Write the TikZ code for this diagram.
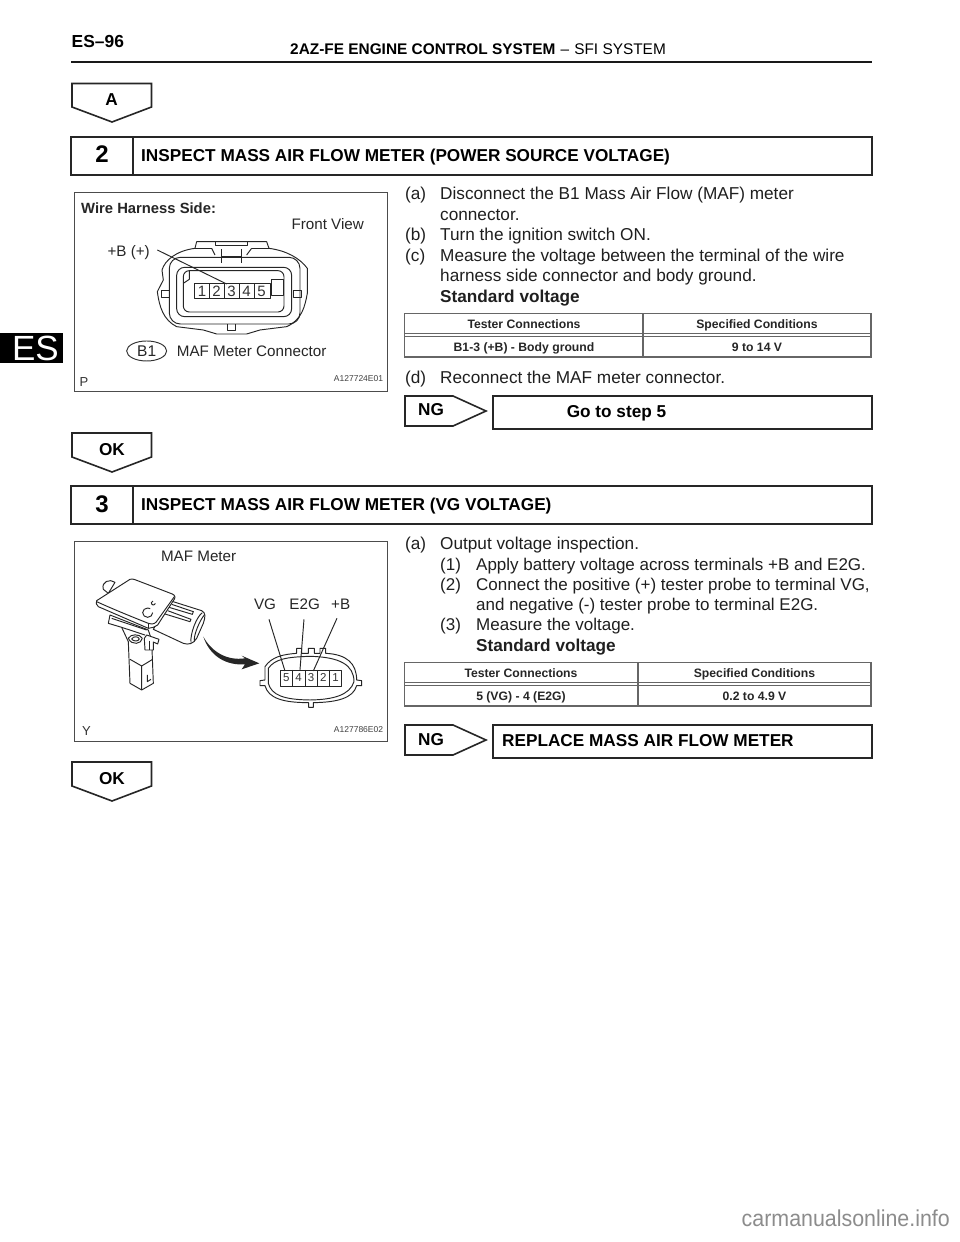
\documentclass[tikz,border=0pt]{standalone}
\usepackage{fontspec}
\usetikzlibrary{shapes.geometric}
\setmainfont{Liberation Sans}
\tikzset{
 body/.style={anchor=base west,inner sep=0,font=\fontsize{17.2}{20}\selectfont,text=black!88},
 bodyc/.style={body,font=\fontsize{17}{20}\selectfont},
 bodyb/.style={body,font=\fontsize{17.2}{20}\selectfont\bfseries},
 boxt/.style={anchor=base west,inner sep=0,font=\fontsize{17.2}{20}\selectfont\bfseries},
 num/.style={anchor=base,inner sep=0,font=\fontsize{24}{26}\selectfont\bfseries},
 flag/.style={anchor=base,inner sep=0,font=\fontsize{17.2}{20}\selectfont\bfseries},
 cell/.style={anchor=base,inner sep=0,font=\fontsize{12.2}{14}\selectfont\bfseries,text=black!85},
 frame/.style={draw=black!85,line width=1.6pt,line join=miter},
 tbl/.style={draw=black!60,line width=1.1pt},
 fig/.style={draw=black!70,line width=1pt},
 figt/.style={inner sep=0,font=\fontsize{15.2}{18}\selectfont,text=black!85},
 figs/.style={inner sep=0,font=\fontsize{8.5}{10}\selectfont,text=black!75},
 ln/.style={draw=black!85,line width=.95pt,line join=round},
 pin/.style={inner sep=0,font=\fontsize{15}{16}\selectfont,text=black!80},
 pins/.style={inner sep=0,font=\fontsize{11.5}{12}\selectfont,text=black!80},
}
\begin{document}
\begin{tikzpicture}[x=1pt,y=-1pt]
\useasboundingbox (0,0) rectangle (960,1242);
\fill[white] (0,0) rectangle (960,1242);
% header
\node[anchor=base west,inner sep=0,font=\fontsize{17.4}{20}\selectfont\bfseries] (hl) at (71.5,47.5) {ES--96};
\node[anchor=base west,inner sep=0,font=\fontsize{15.4}{18}\selectfont] (hr) at (290,54) {\textbf{2AZ-FE ENGINE CONTROL SYSTEM}\,\,--\,\,SFI SYSTEM};
\draw[black!90,line width=1.8pt] (71,62) -- (872,62);
% side tab
\fill[black] (0,333) rectangle (62.5,363);
\node[inner sep=0,anchor=east,font=\fontsize{35}{38}\selectfont,text=white] (es) at (59,348) {ES};
% A
\draw[frame] (72,83.5) -- (151.5,83.5) -- (151.5,107) -- (112,122) -- (72,107) -- cycle;
\node[flag] (fa) at (111.5,105.5) {A};
% step 2
\draw[frame] (71,137) rectangle (872,175);
\draw[frame] (133,137) -- (133,175);
\node[num] (n2) at (102,162.5) {2};
\node[boxt] (t2) at (141,161.5) {INSPECT MASS AIR FLOW METER (POWER SOURCE VOLTAGE)};
% text (a)..(c)
\node[body] (a1) at (405,199.5) {(a)};
\node[body] (a1t) at (440,199.5) {Disconnect the B1 Mass Air Flow (MAF) meter};
\node[body] (a1u) at (440,220) {connector.};
\node[body] (b1) at (405,240.5) {(b)};
\node[body] (b1t) at (440,240.5) {Turn the ignition switch ON.};
\node[body] (c1) at (405,261) {(c)};
\node[body] (c1t) at (440,261) {Measure the voltage between the terminal of the wire};
\node[body] (c1u) at (440,281) {harness side connector and body ground.};
\node[bodyb] (s1) at (440,302) {Standard voltage};
% table 1
\draw[tbl] (404.5,313.5) rectangle (871,357);
\draw[tbl] (404.5,333.5) -- (871,333.5) (404.5,336.2) -- (871,336.2);
\draw[tbl] (643,313.5) -- (643,357);
\node[cell] (c11) at (524,328.5) {Tester Connections};
\node[cell] (c12) at (757,328.5) {Specified Conditions};
\node[cell] (c13) at (524,351) {B1-3 (+B) - Body ground};
\node[cell] (c14) at (757,351) {9 to 14 V};
\node[body] (d1) at (405,383) {(d)};
\node[body] (d1t) at (440,383) {Reconnect the MAF meter connector.};
% NG 1
\draw[frame] (405,396) -- (453,396) -- (486,411) -- (453,426) -- (405,426) -- cycle;
\node[flag] (ng1) at (431,415.5) {NG};
\draw[frame] (493,396) rectangle (872,429);
\node[flag] (g1) at (616.5,417.5) {Go to step 5};
% OK 1
\draw[frame] (72,433) -- (151.5,433) -- (151.5,457) -- (112,472) -- (72,457) -- cycle;
\node[flag] (ok1) at (112,455) {OK};
% step 3
\draw[frame] (71,486) rectangle (872,524);
\draw[frame] (133,486) -- (133,524);
\node[num] (n3) at (102,512) {3};
\node[boxt] (t3) at (141,510.5) {INSPECT MASS AIR FLOW METER (VG VOLTAGE)};
\node[body] (a2) at (405,549.5) {(a)};
\node[body] (a2t) at (440,549.5) {Output voltage inspection.};
\node[bodyc] (p1) at (440,570) {(1)};
\node[bodyc] (p1t) at (476,570) {Apply battery voltage across terminals +B and E2G.};
\node[bodyc] (p2) at (440,590) {(2)};
\node[bodyc] (p2t) at (476,590) {Connect the positive (+) tester probe to terminal VG,};
\node[bodyc] (p2u) at (476,610) {and negative (-) tester probe to terminal E2G.};
\node[bodyc] (p3) at (440,630.5) {(3)};
\node[bodyc] (p3t) at (476,630.5) {Measure the voltage.};
\node[bodyb] (s2) at (476,651) {Standard voltage};
% table 2
\draw[tbl] (404.5,662.5) rectangle (871,706);
\draw[tbl] (404.5,682.5) -- (871,682.5) (404.5,685.2) -- (871,685.2);
\draw[tbl] (638,662.5) -- (638,706);
\node[cell] (c21) at (521,677.5) {Tester Connections};
\node[cell] (c22) at (754.5,677.5) {Specified Conditions};
\node[cell] (c23) at (521,700) {5 (VG) - 4 (E2G)};
\node[cell] (c24) at (754.5,700) {0.2 to 4.9 V};
% NG 2
\draw[frame] (405,725) -- (453,725) -- (486,740) -- (453,755) -- (405,755) -- cycle;
\node[flag] (ng2) at (431,745) {NG};
\draw[frame] (493,725) rectangle (872,758);
\node[boxt] (g2) at (502,746.5) {REPLACE MASS AIR FLOW METER};
% OK 2
\draw[frame] (72,762) -- (151.5,762) -- (151.5,786) -- (112,801) -- (72,786) -- cycle;
\node[flag] (ok2) at (112,784) {OK};
% watermark
\node[inner sep=0,anchor=east,font=\fontsize{23}{26}\selectfont\addfontfeature{FakeStretch=0.93},text=black!45] (wm) at (950,1218) {carmanualsonline.info};

% FIGURE 1
\draw[fig] (74.5,192.5) rectangle (387,391);
\begin{scope}[shift={(70,180)},x=.3333pt,y=-.3333pt]
\node[inner sep=0,anchor=west,font=\fontsize{14.8}{18}\selectfont\bfseries,text=black!85] (w1) at (33,84) {Wire Harness Side:};
\node[figt,anchor=west] (w2) at (664,131) {Front View};
\node[figt,anchor=west] (w3) at (112,219) {+B (+)};
\node[figt,anchor=west] (w4) at (320,513) {MAF Meter Connector};
\node[inner sep=0,anchor=west,font=\fontsize{13}{15}\selectfont,text=black!80] (w5) at (28,607) {P};
\node[figs,anchor=east] (w6) at (940,597) {A127724E01};
\node[draw=black!80,line width=.95pt,ellipse,minimum width=40pt,minimum height=20pt,inner sep=0,font=\fontsize{15.5}{18}\selectfont,text=black!85] (b1e) at (230,513) {B1};
\draw[ln] (375,205) -- (380,185) -- (590,185) -- (597,205);
\draw[ln] (437,185) -- (437,195) -- (532,195) -- (532,185);
\draw[ln] (375,205) .. controls (320,212) and (285,240) .. (276,270) -- (280,300) -- (262,335)
 .. controls (268,380) and (280,420) .. (320,440) -- (400,450) -- (440,462) -- (530,462) -- (570,450) -- (650,440)
 .. controls (695,420) and (705,380) .. (712,340) -- (712,265) .. controls (690,235) and (650,212) .. (597,205);
\draw[ln] (425,205) -- (375,205) (597,205) -- (545,205);
\draw[ln] (425,205) -- (435,225) (545,205) -- (530,225);
\draw[ln,rounded corners=11pt] (298,232) -- (690,232) -- (690,432) -- (298,432) -- cycle;
\draw[ln,rounded corners=8pt] (320,262) -- (665,262) -- (665,410) -- (320,410) -- cycle;
\draw[ln,rounded corners=6pt] (340,272) -- (642,272) -- (642,396) -- (340,396) -- cycle;
\draw[ln] (455,208) -- (455,250) (515,208) -- (515,250) (455,228) -- (515,228);
\draw[ln] (340,310) -- (358,298) -- (358,272);
\draw[ln] (275,332) rectangle (298,352) (670,332) rectangle (695,352);
\draw[ln] (472,432) -- (472,452) -- (497,452) -- (497,432);
\draw[ln,fill=white] (605,297) rectangle (640,346);
\draw[ln] (373,311) rectangle (600,355);
\draw[ln] (418,311) -- (418,355) (462,311) -- (462,355) (508,311) -- (508,355) (552,311) -- (552,355);
\node[pin] (q1) at (396,334) {1};
\node[pin] (q2) at (440,334) {2};
\node[pin] (q3) at (485,334) {3};
\node[pin] (q4) at (530,334) {4};
\node[pin] (q5) at (575,334) {5};
\coordinate (lead) at (262,210);
\coordinate (leadb) at (470,312);
\draw[ln] (lead) -- (leadb);
\end{scope}

% FIGURE 2
\draw[fig] (74.5,541.5) rectangle (387,741);
\begin{scope}[shift={(70,535)},x=.3333pt,y=-.3333pt]
\node[inner sep=0,font=\fontsize{15.2}{18}\selectfont,text=black!85] (m1) at (386,65) {MAF Meter};
\node[figt] (m2) at (585,207) {VG};
\node[figt] (m3) at (704,207) {E2G};
\node[figt] (m4) at (812,207) {+B};
\node[inner sep=0,anchor=west,font=\fontsize{13}{15}\selectfont,text=black!80] (m5) at (36,588) {Y};
\node[figs,anchor=east] (m6) at (940,584) {A127786E02};
% connector
\draw[ln] (585,395) .. controls (605,365) and (640,358) .. (680,355) -- (680,340) -- (695,340) -- (695,355) -- (715,355) -- (715,340) -- (733,340) -- (733,355) -- (750,355) -- (750,340) -- (767,340) -- (767,355) .. controls (830,358) and (860,385) .. (860,435) -- (875,437) -- (875,452) -- (860,452) .. controls (850,490) and (800,502) .. (730,503) -- (730,517) -- (716,517) -- (716,503) .. controls (640,503) and (595,490) .. (585,452) -- (570,452) -- (570,437) -- (585,435) -- cycle;
\draw[ln] (595,400) .. controls (615,372) and (650,366) .. (720,364) .. controls (810,366) and (852,390) .. (852,440) .. controls (840,480) and (790,494) .. (720,495) .. controls (640,494) and (605,480) .. (595,445) -- cycle;
\draw[ln] (631,405) rectangle (815,455);
\draw[ln] (667,405) -- (667,455) (705,405) -- (705,455) (742,405) -- (742,455) (778,405) -- (778,455);
\node[pins] (r5) at (649,427) {5};
\node[pins] (r4) at (686,427) {4};
\node[pins] (r3) at (723,427) {3};
\node[pins] (r2) at (760,427) {2};
\node[pins] (r1) at (797,427) {1};
\coordinate (l5) at (597,253);
\coordinate (l4) at (702,253);
\coordinate (l3) at (801,250);
\coordinate (e5) at (645,408);
\coordinate (e4) at (690,405);
\coordinate (e3) at (730,408);
\draw[ln] (l5) -- (e5);
\draw[ln] (l4) -- (e4);
\draw[ln] (l3) -- (e3);
% arrow
\fill[black!85] (400,305) .. controls (425,350) and (470,378) .. (525,370) -- (515,362) -- (568,385) -- (515,403) -- (525,388) .. controls (470,392) and (420,365) .. (400,305) -- cycle;
% meter
\begin{scope}[shift={(45,105)}]
\draw[ln,fill=white] (55,58) .. controls (48,35) and (75,25) .. (90,37) -- (70,70) -- cycle;
% plug
\draw[ln,fill=white] (255,92) -- (350,122) .. controls (362,128) and (362,140) .. (355,160) -- (335,205) .. controls (325,222) and (310,225) .. (295,220) -- (205,178) -- cycle;
\draw[ln] (352,128) .. controls (335,140) and (315,190) .. (318,218);
\draw[ln] (358,135) .. controls (345,150) and (325,195) .. (328,215);
\draw[ln] (260,103) -- (325,125) -- (322,133) -- (252,112) (248,122) -- (318,148) -- (315,155) -- (240,132);
% shelf and stem
\draw[ln,fill=white] (75,135) -- (70,160) -- (110,172) -- (130,215) -- (135,340) -- (170,360) -- (205,340) -- (200,210) -- (190,180) -- cycle;
\draw[ln] (80,145) -- (185,180) (110,172) -- (180,195);
\draw[ln] (135,268) -- (170,288) -- (170,360) (170,288) -- (203,268);
\draw[ln] (187,315) -- (187,335) -- (198,328);
\draw[ln,fill=white] (130,205) .. controls (135,192) and (165,190) .. (172,205) .. controls (170,222) and (140,228) .. (130,205) -- cycle;
\draw[ln] (140,207) .. controls (145,198) and (160,198) .. (163,207) .. controls (160,215) and (145,215) .. (140,207) -- cycle;
% clip
\draw[ln,fill=white] (178,205) -- (185,195) -- (222,208) -- (218,222) -- (205,216) -- (205,240) -- (180,240) -- cycle;
\draw[ln] (192,212) -- (192,240);
% top plate
\draw[ln,fill=white] (35,92) -- (135,28) .. controls (140,26) and (145,27) .. (150,29) -- (262,72) .. controls (272,76) and (272,85) .. (265,92) -- (218,165) -- (205,172) -- (190,175) -- (40,110) .. controls (33,105) and (32,97) .. (35,92) -- cycle;
\draw[ln] (35,95) .. controls (90,120) and (140,140) .. (190,160) .. controls (205,165) and (212,160) .. (218,150) -- (268,80);
\draw[ln] (190,160) -- (190,175);
\draw[ln] (203,128) arc[start angle=0,end angle=300,x radius=15,y radius=14];
\draw[ln] (211,100) arc[start angle=10,end angle=260,x radius=6,y radius=6];
\end{scope}
\end{scope}
\end{tikzpicture}
\end{document}
